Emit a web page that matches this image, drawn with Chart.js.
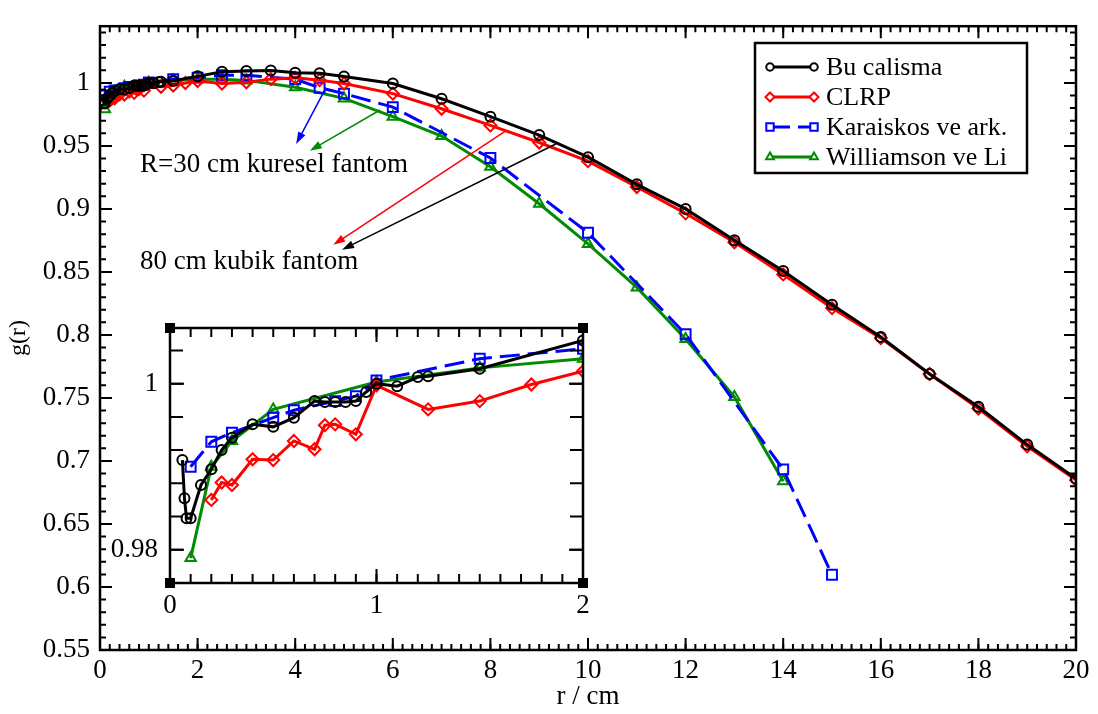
<!DOCTYPE html>
<html>
<head>
<meta charset="utf-8">
<script src="https://cdn.jsdelivr.net/npm/chart.js@4.4.1/dist/chart.umd.min.js"></script>
<style>
  html, body { margin: 0; padding: 0; background: #fff; }
  #wrap { position: relative; width: 1098px; height: 714px; }
  #wrap canvas { position: absolute; left: 0; top: 0; }
</style>
</head>
<body>
<div id="wrap">
  <canvas id="main" width="1098" height="714"></canvas>
  <canvas id="inset" width="1098" height="714"></canvas>
</div>
<script>
// ---- radial dose function g(r) data, r in cm ----
const rBu = [0.06, 0.07, 0.08, 0.1, 0.15, 0.2, 0.25, 0.3, 0.4, 0.5, 0.6, 0.7, 0.75, 0.8, 0.85, 0.9, 0.95, 1.0, 1.1, 1.2, 1.25, 1.5, 2, 2.5, 3, 3.5, 4, 4.5, 5, 6, 7, 8, 9, 10, 11, 12, 13, 14, 15, 16, 17, 18, 19, 20];
const gBu = [0.9908, 0.9862, 0.9838, 0.9838, 0.9878, 0.9897, 0.9920, 0.9935, 0.9951, 0.9948, 0.9959, 0.9979, 0.9978, 0.9978, 0.9978, 0.9979, 0.9990, 1.0000, 0.9997, 1.0008, 1.0009, 1.0018, 1.0052, 1.0088, 1.0095, 1.0098, 1.0080, 1.0077, 1.0051, 0.9995, 0.9874, 0.9732, 0.9586, 0.9411, 0.9195, 0.9000, 0.8752, 0.8508, 0.8240, 0.7983, 0.7690, 0.7430, 0.7130, 0.6860];

const rClrp = [0.2, 0.25, 0.3, 0.4, 0.5, 0.6, 0.7, 0.75, 0.8, 0.9, 1.0, 1.25, 1.5, 1.75, 2, 2.5, 3, 3.5, 4, 4.5, 5, 6, 7, 8, 9, 10, 11, 12, 13, 14, 15, 16, 17, 18, 19, 20];
const gClrp = [0.9860, 0.9881, 0.9878, 0.9909, 0.9908, 0.9931, 0.9921, 0.9950, 0.9951, 0.9939, 0.9998, 0.9969, 0.9979, 0.9999, 1.0015, 0.9995, 1.0005, 1.0030, 1.0040, 1.0022, 0.9995, 0.9915, 0.9795, 0.9663, 0.9527, 0.9379, 0.9174, 0.8965, 0.8735, 0.8480, 0.8213, 0.7975, 0.7690, 0.7416, 0.7117, 0.6848];

const rKar = [0.1, 0.2, 0.3, 0.5, 0.6, 0.8, 0.9, 1.0, 1.5, 2, 2.5, 3, 4, 4.5, 5, 6, 8, 10, 12, 14, 15];
const gKar = [0.9900, 0.9930, 0.9941, 0.9959, 0.9968, 0.9979, 0.9985, 1.0004, 1.0030, 1.0042, 1.0062, 1.0060, 1.0030, 0.9962, 0.9915, 0.9808, 0.9404, 0.8811, 0.8006, 0.6933, 0.6097];

const rWil = [0.1, 0.2, 0.3, 0.5, 1.0, 1.5, 2, 2.5, 3, 4, 5, 6, 7, 8, 9, 10, 11, 12, 13, 14];
const gWil = [0.9790, 0.9900, 0.9931, 0.9969, 1.0002, 1.0019, 1.0030, 1.0030, 1.0020, 0.9965, 0.9877, 0.9732, 0.9578, 0.9335, 0.9041, 0.8722, 0.8377, 0.7968, 0.7508, 0.6840];

const seriesNames = ['Bu calisma', 'CLRP', 'Karaiskos ve ark.', 'Williamson ve Li'];

// ---- tick values and labels ----
const xTicksMain = [0, 2, 4, 6, 8, 10, 12, 14, 16, 18, 20];
const xTickLabelsMain = ['0', '2', '4', '6', '8', '10', '12', '14', '16', '18', '20'];
const yTicksMain = [0.55, 0.6, 0.65, 0.7, 0.75, 0.8, 0.85, 0.9, 0.95, 1.0];
const yTickLabelsMain = ['0.55', '0.6', '0.65', '0.7', '0.75', '0.8', '0.85', '0.9', '0.95', '1'];
const xTicksInset = [0, 1, 2];
const xTickLabelsInset = ['0', '1', '2'];
const yTicksInset = [0.98, 1.0];
const yTickLabelsInset = ['0.98', '1'];

const annotationTexts = ['R=30 cm kuresel fantom', '80 cm kubik fantom'];

const FONT = "'Liberation Serif', 'DejaVu Serif', serif";
const BLACK = '#000000', RED = '#ff0000', BLUE = '#0000ff', GREEN = '#008b00';

Chart.defaults.font.family = FONT;
Chart.defaults.color = '#000';

function pairs(xs, ys) { return xs.map((x, i) => ({ x: x, y: ys[i] })); }

function makeDatasets(lineW) {
  const base = { fill: false, borderWidth: lineW, pointBorderWidth: 2, pointBackgroundColor: 'rgba(0,0,0,0)', tension: 0 };
  return [
    Object.assign({}, base, { label: seriesNames[0], data: pairs(rBu, gBu), borderColor: BLACK, pointBorderColor: BLACK, pointStyle: 'circle', pointRadius: 5 }),
    Object.assign({}, base, { label: seriesNames[1], data: pairs(rClrp, gClrp), borderColor: RED, pointBorderColor: RED, pointStyle: 'rectRot', pointRadius: 6 }),
    Object.assign({}, base, { label: seriesNames[2], data: pairs(rKar, gKar), borderColor: BLUE, pointBorderColor: BLUE, pointStyle: 'rect', pointRadius: 7, borderDash: [20, 8] }),
    Object.assign({}, base, { label: seriesNames[3], data: pairs(rWil, gWil), borderColor: GREEN, pointBorderColor: GREEN, pointStyle: 'triangle', pointRadius: 6 })
  ];
}

// frame with inward ticks on all four sides
const frameTicks = {
  id: 'frameTicks',
  afterDraw(chart, args, o) {
    const ctx = chart.ctx, a = chart.chartArea, xs = chart.scales.x, ys = chart.scales.y;
    ctx.save();
    ctx.strokeStyle = '#000';
    ctx.lineWidth = 2;
    const tickX = (list, len) => {
      list.forEach(v => {
        const px = xs.getPixelForValue(v);
        ctx.beginPath();
        ctx.moveTo(px, a.bottom); ctx.lineTo(px, a.bottom - len);
        ctx.moveTo(px, a.top); ctx.lineTo(px, a.top + len);
        ctx.stroke();
      });
    };
    const tickY = (list, len) => {
      list.forEach(v => {
        const py = ys.getPixelForValue(v);
        ctx.beginPath();
        ctx.moveTo(a.left, py); ctx.lineTo(a.left + len, py);
        ctx.moveTo(a.right, py); ctx.lineTo(a.right - len, py);
        ctx.stroke();
      });
    };
    const steps = (lo, hi, st) => { const out = []; const n = Math.round((hi - lo) / st); for (let i = 0; i <= n; i++) out.push(lo + i * st); return out; };
    tickX(steps(o.xMin, o.xMax, o.xMinorStep), o.minorLen);
    tickX(o.xMajor, o.majorLen);
    tickY(steps(o.yMinStart, o.yMinEnd, o.yMinorStep), o.yMinorLen);
    tickY(o.yMajor, o.majorLen);
    ctx.lineWidth = 2.5;
    ctx.strokeRect(a.left, a.top, a.right - a.left, a.bottom - a.top);
    if (o.cornerSquares) {
      ctx.fillStyle = '#000';
      [[a.left, a.top], [a.right, a.top], [a.left, a.bottom], [a.right, a.bottom]].forEach(c => ctx.fillRect(c[0] - 5, c[1] - 5, 10, 10));
    }
    ctx.restore();
  }
};

const whiteArea = {
  id: 'whiteArea',
  beforeDraw(chart, args, o) {
    if (!o.enabled) return;
    const a = chart.chartArea, ctx = chart.ctx;
    ctx.save(); ctx.fillStyle = '#fff';
    ctx.fillRect(a.left, a.top, a.right - a.left, a.bottom - a.top);
    ctx.restore();
  }
};

function drawArrow(ctx, x0, y0, x1, y1, color) {
  const ang = Math.atan2(y1 - y0, x1 - x0), L = 12, W = 4;
  ctx.strokeStyle = color; ctx.fillStyle = color; ctx.lineWidth = 1.5;
  ctx.beginPath(); ctx.moveTo(x0, y0); ctx.lineTo(x1 - L * 0.8 * Math.cos(ang), y1 - L * 0.8 * Math.sin(ang)); ctx.stroke();
  ctx.beginPath();
  ctx.moveTo(x1, y1);
  ctx.lineTo(x1 - L * Math.cos(ang) + W * Math.sin(ang), y1 - L * Math.sin(ang) - W * Math.cos(ang));
  ctx.lineTo(x1 - L * Math.cos(ang) - W * Math.sin(ang), y1 - L * Math.sin(ang) + W * Math.cos(ang));
  ctx.closePath(); ctx.fill();
}

// phantom annotations and legend box of the main plot
const decorations = {
  id: 'decorations',
  afterDraw(chart) {
    const ctx = chart.ctx, xs = chart.scales.x, ys = chart.scales.y;
    const P = (r, g) => [xs.getPixelForValue(r), ys.getPixelForValue(g)];
    ctx.save();
    const arrows = [
      [4.61, 0.9946, 4.02, 0.9515, BLUE],
      [5.74, 0.9785, 4.30, 0.9462, GREEN],
      [8.30, 0.9615, 4.78, 0.8715, RED],
      [9.34, 0.9515, 4.96, 0.8677, BLACK]
    ];
    arrows.forEach(ar => {
      const s = P(ar[0], ar[1]), e = P(ar[2], ar[3]);
      drawArrow(ctx, s[0], s[1], e[0], e[1], ar[4]);
    });
    ctx.fillStyle = '#000';
    ctx.font = '27px ' + FONT;
    ctx.textBaseline = 'middle'; ctx.textAlign = 'left';
    let p = P(0.82, 0.9346); ctx.fillText(annotationTexts[0], p[0], p[1]);
    p = P(0.82, 0.8577); ctx.fillText(annotationTexts[1], p[0], p[1]);

    // legend
    const bx = 755, by = 43, bw = 272, bh = 130;
    ctx.fillStyle = '#fff'; ctx.fillRect(bx, by, bw, bh);
    ctx.strokeStyle = '#000'; ctx.lineWidth = 2.5; ctx.strokeRect(bx, by, bw, bh);
    chart.data.datasets.forEach((ds, i) => {
      const y = by + 24 + i * 30;
      ctx.save();
      ctx.strokeStyle = ds.borderColor; ctx.lineWidth = 3;
      ctx.setLineDash(ds.borderDash || []);
      ctx.beginPath(); ctx.moveTo(770, y); ctx.lineTo(814, y); ctx.stroke();
      ctx.setLineDash([]);
      ctx.lineWidth = 2;
      ctx.fillStyle = '#fff';
      [770, 814].forEach(x => {
        Chart.helpers.drawPoint(ctx, { pointStyle: ds.pointStyle, radius: ds.pointRadius * 0.75, borderWidth: 2, rotation: 0 }, x, y);
      });
      ctx.restore();
      ctx.fillStyle = '#000'; ctx.font = '26px ' + FONT;
      ctx.textAlign = 'left'; ctx.textBaseline = 'middle';
      ctx.fillText(ds.label, 826, y + 1);
    });
    ctx.restore();
  }
};

function fixedTicks(values) {
  return function (scale) { scale.ticks = values.map(v => ({ value: v })); };
}
function labelFor(values, labels) {
  return (v) => { const i = values.findIndex(t => Math.abs(t - v) < 1e-9); return i >= 0 ? labels[i] : ''; };
}

// ---- main plot ----
new Chart(document.getElementById('main'), {
  type: 'line',
  data: { datasets: makeDatasets(3) },
  options: {
    responsive: false, animation: false, devicePixelRatio: 1,
    layout: { padding: { left: 0, right: 22, top: 6.5, bottom: 0 } },
    plugins: {
      legend: { display: false }, tooltip: { enabled: false },
      frameTicks: { xMin: 0, xMax: 20, xMinorStep: 0.2, xMajor: xTicksMain, yMinStart: 0.55, yMinEnd: 1.04, yMinorStep: 0.01, yMajor: yTicksMain, majorLen: 12, minorLen: 6, yMinorLen: 6 },
      whiteArea: { enabled: false }
    },
    scales: {
      x: {
        type: 'linear', min: 0, max: 20,
        afterBuildTicks: fixedTicks(xTicksMain),
        afterFit(s) { s.height = 64; },
        grid: { display: false, drawTicks: false }, border: { display: false },
        ticks: { padding: 5, font: { size: 27 }, maxRotation: 0, autoSkip: false, callback: labelFor(xTicksMain, xTickLabelsMain) },
        title: { display: true, text: 'r / cm', font: { size: 27 }, padding: { top: 0, bottom: 1 } }
      },
      y: {
        type: 'linear', min: 0.55, max: 1.045,
        afterBuildTicks: fixedTicks(yTicksMain),
        afterFit(s) { s.width = 100; },
        grid: { display: false, drawTicks: false }, border: { display: false },
        ticks: { padding: 10, font: { size: 27 }, autoSkip: false, callback: labelFor(yTicksMain, yTickLabelsMain) },
        title: { display: true, text: 'g(r)', font: { size: 24 }, padding: { top: 4, bottom: 0 } }
      }
    }
  },
  plugins: [frameTicks, decorations, whiteArea]
});

// ---- inset: close-up of 0 - 2 cm ----
new Chart(document.getElementById('inset'), {
  type: 'line',
  data: { datasets: makeDatasets(3).map(d => Object.assign(d, { clip: 0 })) },
  options: {
    responsive: false, animation: false, devicePixelRatio: 1,
    layout: { padding: { left: 100, right: 515, top: 328, bottom: 91 } },
    plugins: {
      legend: { display: false }, tooltip: { enabled: false },
      frameTicks: { xMin: 0, xMax: 2, xMinorStep: 0.1, xMajor: xTicksInset, yMinStart: 0.976, yMinEnd: 1.004, yMinorStep: 0.004, yMajor: yTicksInset, majorLen: 14, minorLen: 9, yMinorLen: 13, cornerSquares: true },
      whiteArea: { enabled: true }
    },
    scales: {
      x: {
        type: 'linear', min: 0, max: 2,
        afterBuildTicks: fixedTicks(xTicksInset),
        afterFit(s) { s.height = 40; },
        grid: { display: false, drawTicks: false }, border: { display: false },
        ticks: { padding: 7, font: { size: 27 }, maxRotation: 0, autoSkip: false, callback: labelFor(xTicksInset, xTickLabelsInset) }
      },
      y: {
        type: 'linear', min: 0.976, max: 1.0067,
        afterBuildTicks: fixedTicks(yTicksInset),
        afterFit(s) { s.width = 70; },
        grid: { display: false, drawTicks: false }, border: { display: false },
        ticks: { padding: 12, font: { size: 27 }, autoSkip: false, callback: labelFor(yTicksInset, yTickLabelsInset) }
      }
    }
  },
  plugins: [whiteArea, frameTicks]
});
</script>
</body>
</html>
